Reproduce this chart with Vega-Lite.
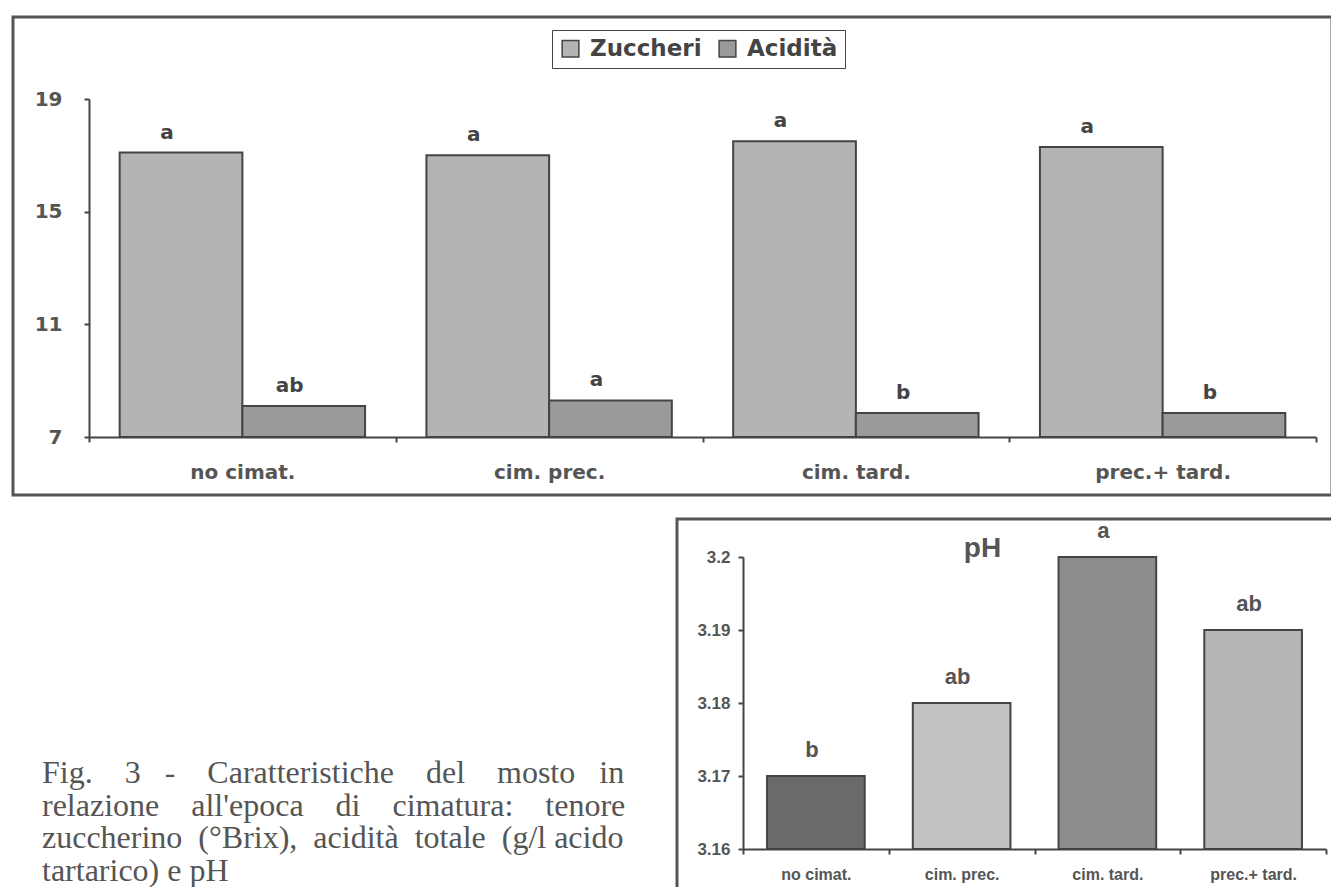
{
  "$schema": "https://vega.github.io/schema/vega-lite/v6.json",
  "padding": {"left": 11, "top": 15, "right": 0, "bottom": 0},
  "background": "white",
  "spacing": 20,
  "resolve": {"scale": {"color": "independent"}, "legend": {"color": "independent"}},
  "config": {
    "view": {"stroke": "#555", "strokeWidth": 3},
    "axis": {"domainColor": "#444", "domainWidth": 2, "tickColor": "#444", "tickWidth": 2, "grid": false, "title": null}
  },
  "vconcat": [
    {
      "width": 1319,
      "height": 478,
      "data": {"values": [
        {"trattamento": "no cimat.", "parametro": "Zuccheri", "valore": 17.1, "lettera": "a"},
        {"trattamento": "no cimat.", "parametro": "Acidità", "valore": 8.1, "lettera": "ab"},
        {"trattamento": "cim. prec.", "parametro": "Zuccheri", "valore": 17.0, "lettera": "a"},
        {"trattamento": "cim. prec.", "parametro": "Acidità", "valore": 8.3, "lettera": "a"},
        {"trattamento": "cim. tard.", "parametro": "Zuccheri", "valore": 17.5, "lettera": "a"},
        {"trattamento": "cim. tard.", "parametro": "Acidità", "valore": 7.85, "lettera": "b"},
        {"trattamento": "prec.+ tard.", "parametro": "Zuccheri", "valore": 17.3, "lettera": "a"},
        {"trattamento": "prec.+ tard.", "parametro": "Acidità", "valore": 7.85, "lettera": "b"}
      ]},
      "encoding": {
        "x": {
          "field": "trattamento", "type": "nominal",
          "sort": ["no cimat.", "cim. prec.", "cim. tard.", "prec.+ tard."],
          "scale": {"range": [76, 1303], "paddingInner": 0, "paddingOuter": 0},
          "axis": {"orient": "bottom", "offset": -58, "labelAngle": 0, "tickBand": "extent", "tickSize": 5, "labelPadding": 20,
                   "labelFont": "DejaVu Sans", "labelFontWeight": "bold", "labelFontSize": 20, "labelColor": "#555"}
        },
        "xOffset": {"field": "parametro", "type": "nominal", "sort": ["Zuccheri", "Acidità"], "scale": {"paddingInner": 0, "paddingOuter": 0.25}},
        "y": {
          "field": "valore", "type": "quantitative",
          "scale": {"domain": [7, 19], "range": [420, 82]},
          "axis": {"orient": "left", "offset": -76, "values": [7, 11, 15, 19], "tickSize": 5, "labelPadding": 22,
                   "labelFont": "DejaVu Sans", "labelFontWeight": "bold", "labelFontSize": 20, "labelColor": "#555"}
        }
      },
      "layer": [
        {
          "mark": {"type": "bar", "stroke": "#444", "strokeWidth": 2},
          "encoding": {
            "y2": {"datum": 7},
            "color": {
              "field": "parametro", "type": "nominal",
              "scale": {"domain": ["Zuccheri", "Acidità"], "range": ["#b4b4b4", "#9a9a9a"]},
              "legend": {"orient": "none", "legendX": 539, "legendY": 13, "direction": "horizontal", "title": null,
                         "strokeColor": "#444", "padding": 7, "symbolType": "square", "symbolSize": 280,
                         "symbolStrokeColor": "#444", "symbolStrokeWidth": 1.5, "symbolOpacity": 1,
                         "labelFont": "DejaVu Sans", "labelFontWeight": "bold", "labelFontSize": 23, "labelColor": "#444",
                         "labelOffset": 8, "columnPadding": 14}
            }
          }
        },
        {
          "mark": {"type": "text", "baseline": "bottom", "dy": -10, "dx": -14, "font": "DejaVu Sans", "fontWeight": "bold", "fontSize": 20, "color": "#444"},
          "encoding": {"text": {"field": "lettera"}}
        }
      ]
    },
    {
      "spacing": 20,
      "hconcat": [
        {
          "width": 642,
          "height": 373,
          "view": {"stroke": null},
          "data": {"values": [
            {"riga": 1, "testo": "Fig.\u00a0\u00a0\u00a0 3\u00a0\u00a0 -\u00a0\u00a0\u00a0 Caratteristiche\u00a0\u00a0\u00a0 del\u00a0\u00a0\u00a0 mosto\u00a0\u00a0 in"},
            {"riga": 2, "testo": "relazione\u00a0\u00a0\u00a0 all'epoca\u00a0\u00a0\u00a0 di\u00a0\u00a0\u00a0 cimatura:\u00a0\u00a0\u00a0 tenore"},
            {"riga": 3, "testo": "zuccherino\u00a0 (°Brix),\u00a0 acidità\u00a0 totale\u00a0 (g/l acido"},
            {"riga": 4, "testo": "tartarico) e pH"}
          ]},
          "mark": {"type": "text", "align": "left", "baseline": "alphabetic", "font": "Liberation Serif", "fontSize": 32, "color": "#555"},
          "encoding": {
            "x": {"value": 29},
            "y": {"field": "riga", "type": "ordinal", "scale": {"type": "point", "range": [264, 362], "padding": 0}, "axis": null},
            "text": {"field": "testo"}
          }
        },
        {
          "width": 657,
          "height": 373,
          "title": {"text": "pH", "offset": -44, "dx": -23, "anchor": "middle", "font": "Liberation Sans", "fontSize": 28, "fontWeight": "bold", "color": "#555"},
          "data": {"values": [
            {"trattamento": "no cimat.", "pH": 3.17, "lettera": "b"},
            {"trattamento": "cim. prec.", "pH": 3.18, "lettera": "ab"},
            {"trattamento": "cim. tard.", "pH": 3.20, "lettera": "a"},
            {"trattamento": "prec.+ tard.", "pH": 3.19, "lettera": "ab"}
          ]},
          "encoding": {
            "x": {
              "field": "trattamento", "type": "nominal",
              "sort": ["no cimat.", "cim. prec.", "cim. tard.", "prec.+ tard."],
              "scale": {"range": [66, 649], "paddingInner": 0, "paddingOuter": 0},
              "axis": {"orient": "bottom", "offset": -43, "labelAngle": 0, "tickBand": "extent", "tickSize": 5, "labelPadding": 12,
                       "labelFont": "Liberation Sans", "labelFontWeight": "bold", "labelFontSize": 16, "labelColor": "#555"}
            },
            "y": {
              "field": "pH", "type": "quantitative",
              "scale": {"domain": [3.16, 3.2], "range": [330, 38]},
              "axis": {"orient": "left", "offset": -66, "values": [3.16, 3.17, 3.18, 3.19, 3.2], "format": "~g", "tickSize": 5, "labelPadding": 8,
                       "labelFont": "Liberation Sans", "labelFontWeight": "bold", "labelFontSize": 17, "labelColor": "#555"}
            }
          },
          "layer": [
            {
              "mark": {"type": "bar", "stroke": "#444", "strokeWidth": 2, "width": {"band": 0.67}},
              "encoding": {
                "y2": {"datum": 3.16},
                "color": {
                  "field": "trattamento", "type": "nominal",
                  "sort": ["no cimat.", "cim. prec.", "cim. tard.", "prec.+ tard."],
                  "scale": {"domain": ["no cimat.", "cim. prec.", "cim. tard.", "prec.+ tard."], "range": ["#6a6a6a", "#c2c2c2", "#8c8c8c", "#b6b6b6"]},
                  "legend": null
                }
              }
            },
            {
              "mark": {"type": "text", "baseline": "bottom", "dy": -14, "dx": -4, "font": "Liberation Sans", "fontWeight": "bold", "fontSize": 22, "color": "#555"},
              "encoding": {"text": {"field": "lettera"}}
            }
          ]
        }
      ]
    }
  ]
}
